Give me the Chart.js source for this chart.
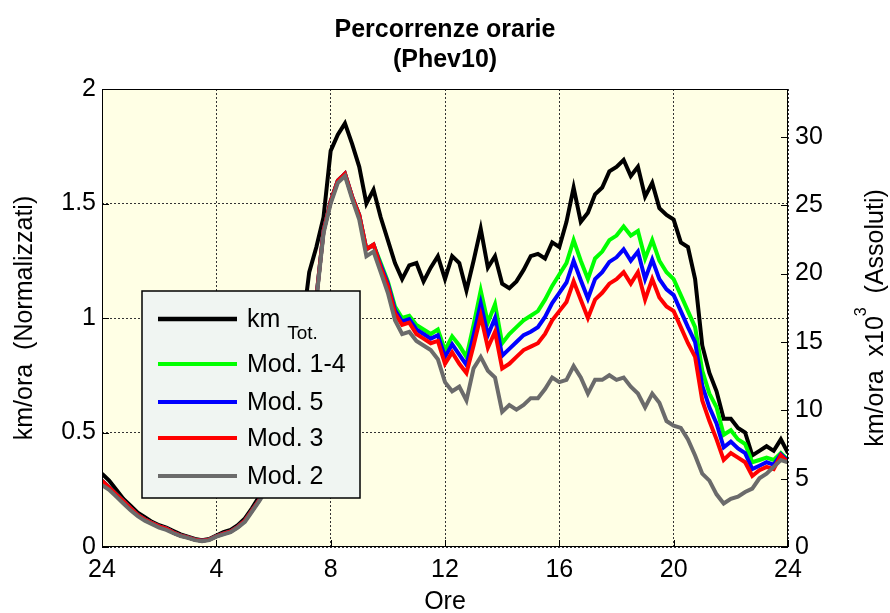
<!DOCTYPE html>
<html>
<head>
<meta charset="utf-8">
<title>Percorrenze orarie (Phev10)</title>
<script src="https://cdn.jsdelivr.net/npm/chart.js@4.4.1/dist/chart.umd.min.js"></script>
<style>
  html, body { margin: 0; padding: 0; background: #fff; }
  #wrap { width: 890px; height: 613px; }
</style>
</head>
<body>
<div id="wrap"><canvas id="chart" width="890" height="613"></canvas></div>
<script>
// ore del giorno, passo di 15 minuti (0 = mezzanotte, mostrata come 24)
const hours = Array.from({ length: 97 }, (_, i) => i * 0.25);

const xTicks = [0, 4, 8, 12, 16, 20, 24];
const xTickLabels = ["24", "4", "8", "12", "16", "20", "24"];

// km/ora normalizzati
const kmTot = [
  0.32, 0.29, 0.25, 0.21, 0.18, 0.15, 0.13, 0.11, 0.095, 0.085,
  0.07, 0.055, 0.045, 0.035, 0.03, 0.035, 0.05, 0.065, 0.075, 0.095,
  0.125, 0.17, 0.22, 0.28, 0.36, 0.45, 0.58, 0.75, 0.95, 1.20,
  1.31, 1.44, 1.73, 1.80, 1.85, 1.76, 1.66, 1.50, 1.56, 1.44,
  1.34, 1.24, 1.17, 1.23, 1.24, 1.16, 1.22, 1.27, 1.17, 1.27,
  1.24, 1.12, 1.25, 1.39, 1.22, 1.27, 1.15, 1.13, 1.16, 1.21,
  1.27, 1.28, 1.26, 1.33, 1.31, 1.42, 1.57, 1.42, 1.46, 1.54,
  1.57, 1.64, 1.66, 1.69, 1.62, 1.66, 1.53, 1.59, 1.48, 1.45,
  1.43, 1.33, 1.31, 1.17, 0.88, 0.76, 0.68, 0.56, 0.56, 0.52,
  0.50, 0.40, 0.42, 0.44, 0.42, 0.47, 0.41
];

const mod14 = [
  0.29, 0.26, 0.23, 0.20, 0.17, 0.14, 0.12, 0.105, 0.09, 0.08,
  0.063, 0.05, 0.042, 0.032, 0.027, 0.032, 0.047, 0.058, 0.068, 0.088,
  0.115, 0.16, 0.205, 0.26, 0.33, 0.41, 0.51, 0.65, 0.81, 0.96,
  1.09, 1.38, 1.51, 1.60, 1.63, 1.53, 1.45, 1.30, 1.32, 1.24,
  1.16, 1.05, 1.00, 1.01, 0.97, 0.95, 0.93, 0.95, 0.86, 0.92,
  0.88, 0.83, 0.97, 1.12, 0.98, 1.06, 0.89, 0.93, 0.96, 0.99,
  1.01, 1.03, 1.08, 1.14, 1.19, 1.24, 1.34, 1.25, 1.17, 1.26,
  1.29, 1.34, 1.36, 1.40, 1.36, 1.38, 1.26, 1.34, 1.25, 1.20,
  1.17, 1.10, 1.03, 0.96, 0.77, 0.67, 0.61, 0.49, 0.51, 0.47,
  0.45, 0.37, 0.38, 0.39, 0.38, 0.41, 0.38
];

const mod5 = [
  0.29, 0.26, 0.23, 0.20, 0.17, 0.14, 0.12, 0.105, 0.09, 0.08,
  0.063, 0.05, 0.042, 0.032, 0.027, 0.032, 0.047, 0.058, 0.068, 0.088,
  0.115, 0.16, 0.205, 0.26, 0.33, 0.41, 0.51, 0.65, 0.81, 0.96,
  1.09, 1.38, 1.51, 1.60, 1.63, 1.53, 1.45, 1.30, 1.32, 1.23,
  1.15, 1.035, 0.985, 0.995, 0.95, 0.93, 0.91, 0.925, 0.83, 0.885,
  0.84, 0.795, 0.925, 1.065, 0.925, 1.00, 0.835, 0.865, 0.895, 0.925,
  0.94, 0.96, 1.005, 1.065, 1.11, 1.155, 1.25, 1.165, 1.085, 1.17,
  1.20, 1.245, 1.265, 1.30, 1.25, 1.29, 1.17, 1.255, 1.17, 1.125,
  1.10, 1.03, 0.96, 0.895, 0.705, 0.61, 0.54, 0.435, 0.46, 0.43,
  0.41, 0.34, 0.355, 0.37, 0.36, 0.405, 0.375
];

const mod3 = [
  0.29, 0.26, 0.23, 0.20, 0.17, 0.14, 0.12, 0.105, 0.09, 0.08,
  0.063, 0.05, 0.042, 0.032, 0.027, 0.032, 0.047, 0.058, 0.068, 0.088,
  0.115, 0.16, 0.205, 0.26, 0.33, 0.41, 0.51, 0.65, 0.81, 0.96,
  1.09, 1.38, 1.51, 1.60, 1.63, 1.53, 1.45, 1.30, 1.32, 1.22,
  1.14, 1.02, 0.97, 0.98, 0.93, 0.91, 0.89, 0.90, 0.80, 0.85,
  0.80, 0.76, 0.88, 1.01, 0.87, 0.94, 0.78, 0.80, 0.83, 0.86,
  0.875, 0.89, 0.93, 0.99, 1.03, 1.07, 1.16, 1.08, 1.00, 1.08,
  1.11, 1.15, 1.17, 1.20, 1.15, 1.20, 1.08, 1.17, 1.09, 1.05,
  1.03, 0.96, 0.89, 0.83, 0.64, 0.55, 0.47, 0.38, 0.41, 0.39,
  0.37, 0.31, 0.335, 0.35, 0.34, 0.40, 0.37
];

const mod2 = [
  0.27, 0.25, 0.22, 0.19, 0.16, 0.135, 0.115, 0.10, 0.085, 0.075,
  0.06, 0.048, 0.04, 0.03, 0.025, 0.03, 0.045, 0.055, 0.065, 0.085,
  0.11, 0.155, 0.20, 0.25, 0.32, 0.40, 0.50, 0.64, 0.80, 0.95,
  1.08, 1.37, 1.50, 1.59, 1.62, 1.52, 1.43, 1.27, 1.29, 1.20,
  1.11, 0.99, 0.93, 0.94, 0.90, 0.88, 0.86, 0.82, 0.72, 0.68,
  0.70, 0.64, 0.78, 0.83, 0.77, 0.74, 0.59, 0.62, 0.60, 0.62,
  0.65, 0.65, 0.69, 0.74, 0.72, 0.73, 0.79, 0.74, 0.67, 0.73,
  0.73, 0.75, 0.73, 0.74, 0.70, 0.67, 0.61, 0.67, 0.63, 0.55,
  0.53, 0.52, 0.47, 0.40, 0.32, 0.29, 0.23, 0.19, 0.21, 0.22,
  0.24, 0.255, 0.30, 0.32, 0.35, 0.38, 0.37
];

const seriesNames = ["km", "Mod. 1-4", "Mod. 5", "Mod. 3", "Mod. 2"];
const seriesColors = ["#000000", "#00ff00", "#0000ff", "#ff0000", "#6b6b6b"];
const seriesValues = [kmTot, mod14, mod5, mod3, mod2];

const fontFamily = "'Liberation Sans', Arial, sans-serif";

const toPoints = (vals) => vals.map((v, i) => ({ x: hours[i], y: v }));

// sfondo area grafico, cornice, tacche, legenda e testi in stile MATLAB
const matlabLook = {
  id: "matlabLook",
  beforeDraw(chart) {
    const { ctx, chartArea: a } = chart;
    ctx.save();
    ctx.fillStyle = "rgb(255,255,229)";
    ctx.fillRect(a.left, a.top, a.width, a.height);
    ctx.restore();
  },
  afterDraw(chart) {
    const { ctx, chartArea: a, scales } = chart;
    ctx.save();

    // cornice
    ctx.strokeStyle = "#000";
    ctx.lineWidth = 1;
    ctx.strokeRect(a.left + 0.5, a.top + 0.5, a.width - 1, a.height - 1);

    // tacche interne
    ctx.beginPath();
    scales.y.ticks.forEach((t) => {
      const y = Math.round(scales.y.getPixelForValue(t.value)) + 0.5;
      ctx.moveTo(a.left, y);
      ctx.lineTo(a.left + 7, y);
    });
    scales.y2.ticks.forEach((t) => {
      const y = Math.round(scales.y2.getPixelForValue(t.value)) + 0.5;
      ctx.moveTo(a.right, y);
      ctx.lineTo(a.right - 7, y);
    });
    scales.x.ticks.forEach((t) => {
      const x = Math.round(scales.x.getPixelForValue(t.value)) + 0.5;
      ctx.moveTo(x, a.bottom);
      ctx.lineTo(x, a.bottom - 7);
    });
    ctx.stroke();

    // legenda
    const lx = a.left + 40, ly = a.top + 202, lw = 218, lh = 207;
    ctx.fillStyle = "rgb(240,245,242)";
    ctx.fillRect(lx, ly, lw, lh);
    ctx.strokeStyle = "#000";
    ctx.lineWidth = 1.5;
    ctx.strokeRect(lx, ly, lw, lh);
    const rowY = [28, 73, 111, 147, 185];
    ctx.textBaseline = "middle";
    ctx.textAlign = "left";
    seriesNames.forEach((name, i) => {
      const y = ly + rowY[i];
      ctx.strokeStyle = seriesColors[i];
      ctx.lineWidth = i === 0 ? 4.5 : 4;
      ctx.beginPath();
      ctx.moveTo(lx + 16, y);
      ctx.lineTo(lx + 95, y);
      ctx.stroke();
      ctx.fillStyle = "#000";
      ctx.font = "25px " + fontFamily;
      ctx.fillText(name, lx + 105, y + 1);
      if (i === 0) {
        const w = ctx.measureText(name + " ").width;
        ctx.font = "19px " + fontFamily;
        ctx.fillText("Tot.", lx + 105 + w, y + 15);
      }
    });

    // titolo
    const cx = (a.left + a.right) / 2;
    ctx.fillStyle = "#000";
    ctx.textAlign = "center";
    ctx.textBaseline = "alphabetic";
    ctx.font = "bold 25px " + fontFamily;
    ctx.fillText("Percorrenze orarie", cx, 37);
    ctx.fillText("(Phev10)", cx, 67);

    // asse x
    ctx.font = "25px " + fontFamily;
    ctx.fillText("Ore", cx, 609);

    // asse y sinistro
    const cy = (a.top + a.bottom) / 2;
    ctx.save();
    ctx.translate(32, cy);
    ctx.rotate(-Math.PI / 2);
    ctx.fillText("km/ora  (Normalizzati)", 0, 0);
    ctx.restore();

    // asse y destro, con esponente
    ctx.save();
    ctx.translate(883, cy);
    ctx.rotate(-Math.PI / 2);
    ctx.textAlign = "left";
    const p1 = "km/ora  x10", p2 = "3", p3 = "  (Assoluti)";
    ctx.font = "25px " + fontFamily;
    const w1 = ctx.measureText(p1).width, w3 = ctx.measureText(p3).width;
    ctx.font = "16px " + fontFamily;
    const w2 = ctx.measureText(p2).width;
    let x0 = -(w1 + w2 + w3) / 2;
    ctx.font = "25px " + fontFamily;
    ctx.fillText(p1, x0, 0);
    ctx.font = "16px " + fontFamily;
    ctx.fillText(p2, x0 + w1, -17);
    ctx.font = "25px " + fontFamily;
    ctx.fillText(p3, x0 + w1 + w2, 0);
    ctx.restore();

    ctx.restore();
  }
};

const gridStyle = {
  color: "#333",
  lineWidth: 1,
  drawTicks: false
};

const chartConfig = {
  type: "line",
  data: {
    datasets: seriesValues.map((vals, i) => ({
      label: seriesNames[i],
      data: toPoints(vals),
      borderColor: seriesColors[i],
      backgroundColor: seriesColors[i],
      borderWidth: 4,
      pointRadius: 0,
      tension: 0,
      order: seriesValues.length - i
    }))
  },
  options: {
    responsive: false,
    animation: false,
    layout: { padding: { top: 89, left: 0, right: 0, bottom: 0 } },
    plugins: {
      legend: { display: false },
      title: { display: false },
      tooltip: { enabled: false }
    },
    scales: {
      x: {
        type: "linear",
        min: 0,
        max: 24,
        afterBuildTicks: (scale) => {
          scale.ticks = xTicks.map((v) => ({ value: v }));
        },
        afterFit: (scale) => { scale.height = 66; },
        grid: gridStyle,
        border: { display: false, dash: [2, 2] },
        ticks: {
          padding: 8,
          color: "#000",
          font: { size: 25, family: fontFamily },
          maxRotation: 0,
          callback: (v) => xTickLabels[xTicks.indexOf(v)]
        }
      },
      y: {
        position: "left",
        min: 0,
        max: 2,
        afterFit: (scale) => { scale.width = 102; },
        grid: gridStyle,
        border: { display: false, dash: [2, 2] },
        ticks: {
          stepSize: 0.5,
          padding: 6,
          color: "#000",
          font: { size: 25, family: fontFamily },
          callback: (v) => String(v)
        }
      },
      y2: {
        position: "right",
        min: 0,
        max: 33.5,
        afterBuildTicks: (scale) => {
          scale.ticks = scale.ticks.filter((t) => t.value % 5 === 0);
        },
        afterFit: (scale) => { scale.width = 102; },
        grid: { drawOnChartArea: false, drawTicks: false },
        border: { display: false },
        ticks: {
          stepSize: 5,
          padding: 7,
          color: "#000",
          font: { size: 25, family: fontFamily },
          callback: (v) => String(v)
        }
      }
    }
  },
  plugins: [matlabLook]
};

new Chart(document.getElementById("chart"), chartConfig);
</script>
</body>
</html>
